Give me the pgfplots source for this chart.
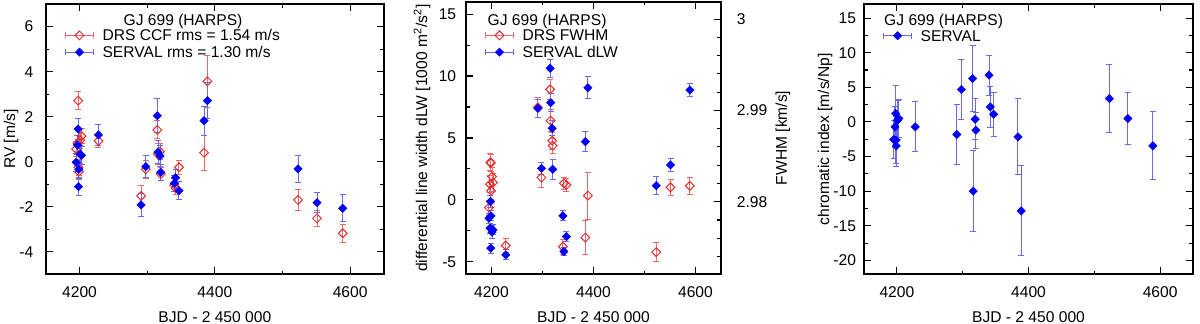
\documentclass[border=0pt]{standalone}
\usepackage{pgfplots}
\pgfplotsset{compat=1.18}
\usepackage{pgfplotstable}
\usepackage{fontspec}
\setmainfont{Liberation Sans}
\definecolor{dred}{RGB}{232,45,45}
\definecolor{dblue}{RGB}{0,0,250}
\definecolor{ered}{RGB}{235,105,105}
\definecolor{eblue}{RGB}{105,105,235}

\pgfplotstableread{
t b be r re
4195 -0.03 0.40 0.56 0.35
4197 0.74 0.42 0.82 0.35
4198 1.45 0.48 2.71 0.40
4199 -0.34 0.40 -0.44 0.35
4198.5 -1.11 0.40 -0.25 0.35
4201 0.33 0.40 0.95 0.35
4203 0.28 0.40 1.14 0.35
4228 1.19 0.45 0.92 0.30
4291 -1.92 0.52 -1.52 0.45
4298 -0.22 0.50 -0.34 0.40
4315 2.04 0.75 1.41 0.40
4316 0.42 0.50 0.34 0.45
4319 0.25 0.45 0.44 0.35
4320 -0.47 0.35 -0.55 0.30
4340 -0.96 0.35 -1.04 0.30
4342 -0.71 0.35 -1.18 0.30
4347 -1.29 0.40 -0.25 0.30
4384 1.82 0.65 0.40 0.77
4389 2.71 0.80 3.57 1.15
4523 -0.32 0.60 -1.70 0.45
4551 -1.82 0.45 -2.52 0.35
4589 -2.07 0.60 -3.18 0.40
}\rvtab

\pgfplotstableread{
t b be r re
4195 -1.48 0.4 -0.62 0.6
4197 -2.28 0.4 1.26 0.7
4198 -0.13 0.5 3.04 0.7
4199 -1.29 0.4 0.73 0.7
4198.5 -3.90 0.4 2.98 0.7
4201 -2.60 0.5 1.88 0.7
4203 -2.42 0.4 1.40 0.7
4228 -4.44 0.4 -3.68 0.6
4291 7.39 0.7 7.47 0.8
4298 2.55 0.5 1.80 0.8
4315 10.62 0.7 8.92 0.8
4316 7.85 0.7 6.39 0.9
4319 5.78 0.6 4.78 0.7
4320 2.47 0.8 4.38 0.6
4340 -1.29 0.4 -3.77 0.6
4342 -4.17 0.3 1.34 0.5
4347 -2.96 0.4 1.21 0.5
4384 4.70 0.8 -3.04 1.35
4389 9.06 0.9 0.35 1.90
4523 1.15 0.7 -4.22 0.75
4551 2.82 0.5 1.02 0.65
4589 8.87 0.55 1.13 0.7
}\lwtab

\pgfplotstableread{
t b be
4195 -2.55 2.7
4197 -0.72 3.0
4198 1.21 4.0
4199 -3.46 3.0
4198.5 -2.64 3.4
4201 0.25 2.8
4203 0.49 2.7
4228 -0.72 3.6
4291 -1.82 4.4
4298 4.68 4.3
4315 6.27 4.8
4316 -10.0 5.9
4319 0.39 3.0
4320 -1.20 2.6
4340 6.75 2.9
4342 2.17 3.0
4347 1.11 3.2
4384 -2.17 5.5
4389 -12.86 6.5
4523 3.37 4.9
4551 0.48 3.8
4589 -3.46 4.9
}\citab

\pgfplotsset{
  gp/.style={
    scale only axis, anchor=south west,
    font=\fontsize{7.8}{9}\selectfont,
    xmin=4150, xmax=4650,
    xtick={4200,4400,4600}, minor xtick={4300,4500},
    tick align=inside,
    major tick length=3.5pt, minor tick length=1.8pt,
    every tick/.style={black, line width=0.55pt},
    axis line style={black, line width=0.9pt},
    /pgf/number format/assume math mode=true,
    /pgf/number format/1000 sep={},
    xlabel={BJD - 2 450 000},
    xticklabel style={yshift=-2.9pt},
    clip=false,
  },
  ylab/.style={every axis y label/.style={at={(axis description cs:#1,0.5)}, rotate=90, anchor=center}},
  redpts/.style={only marks, mark=square, mark size=1.55pt,
     mark options={rotate=45, draw=dred, line width=0.5pt, fill=none},
     error bars/y dir=both, error bars/y explicit,
     error bars/error bar style={ered, line width=0.5pt},
     error bars/error mark options={rotate=90, ered, mark size=1.5pt, line width=0.5pt}},
  bluepts/.style={only marks, mark=square*, mark size=1.45pt,
     mark options={rotate=45, draw=dblue, fill=dblue, line width=0.3pt},
     error bars/y dir=both, error bars/y explicit,
     error bars/error bar style={eblue, line width=0.5pt},
     error bars/error mark options={rotate=90, eblue, mark size=1.5pt, line width=0.5pt}},
  gpleg/.style={legend cell align=left,
     legend style={draw=none, fill=none, inner sep=0pt, anchor=north west,
        row sep=2.7pt, column sep=4.5pt,
        nodes={inner sep=0pt, text height=5.6pt, text depth=0.1pt}}},
}
\newcommand{\redleg}{\addlegendimage{legend image code/.code={
   \draw[ered, line width=0.5pt] (0pt,0pt)--(13.6pt,0pt) (0pt,-1.5pt)--(0pt,1.5pt) (13.6pt,-1.5pt)--(13.6pt,1.5pt);
   \draw[only marks, mark=square, mark size=1.55pt, mark options={rotate=45, draw=dred, line width=0.5pt}] plot coordinates {(6.8pt,0pt)};}}}
\newcommand{\blueleg}{\addlegendimage{legend image code/.code={
   \draw[eblue, line width=0.5pt] (0pt,0pt)--(13.6pt,0pt) (0pt,-1.5pt)--(0pt,1.5pt) (13.6pt,-1.5pt)--(13.6pt,1.5pt);
   \draw[only marks, mark=square*, mark size=1.45pt, mark options={rotate=45, draw=dblue, fill=dblue, line width=0.3pt}] plot coordinates {(6.8pt,0pt)};}}}
\newcommand{\tfont}{\fontsize{7.8}{9}\selectfont}

\begin{document}
\begin{tikzpicture}
\path[use as bounding box] (0,0) rectangle (600pt,161.5pt);

% Panel 1
\begin{axis}[gp, gpleg, ylab=-0.1026, at={(22.85pt,24.4pt)}, width=169.15pt, height=135.05pt,
  ymin=-5, ymax=7, ytick={-4,-2,...,6}, minor y tick num=1,
  ylabel={RV [m/s]}, yticklabel style={xshift=-2.7pt},
  legend style={at={(0.057,0.907)}}]
\addplot[redpts, forget plot] table[x=t, y=r, y error=re] {\rvtab};
\addplot[bluepts, forget plot] table[x=t, y=b, y error=be] {\rvtab};
\redleg \addlegendentry{DRS CCF rms = 1.54 m/s}
\blueleg \addlegendentry{SERVAL rms = 1.30 m/s}
\node[anchor=base, font=\tfont] at (rel axis cs:0.406,0.919) {GJ 699 (HARPS)};
\end{axis}

% Panel 2
\begin{axis}[gp, gpleg, ylab=-0.1725, at={(233pt,24.4pt)}, width=127.5pt, height=136.25pt,
  ymin=-6, ymax=16, ytick={-5,0,...,15}, minor y tick num=1, ytick pos=left,
  ylabel={differential line width dLW [1000 m\textsuperscript{2}/s\textsuperscript{2}]},
  yticklabel style={xshift=-1.4pt},
  legend style={at={(0.0745,0.899)}}]
\addplot[redpts, forget plot] table[x=t, y=r, y error=re] {\lwtab};
\addplot[bluepts, forget plot] table[x=t, y=b, y error=be] {\lwtab};
\redleg \addlegendentry{DRS FWHM}
\blueleg \addlegendentry{SERVAL dLW}
\node[anchor=base, font=\tfont] at (rel axis cs:0.318,0.913) {GJ 699 (HARPS)};
\end{axis}
\begin{axis}[scale only axis, anchor=south west, at={(233pt,24.4pt)}, width=127.5pt, height=136.25pt,
  font=\tfont, xmin=4150, xmax=4650, axis x line=none, axis y line*=right,
  ymin=2.97207, ymax=3.0019, ytick={2.98,2.99,3},
  minor ytick={2.974,2.976,2.978,2.982,2.984,2.986,2.988,2.992,2.994,2.996,2.998},
  tick align=inside, major tick length=3.5pt, minor tick length=1.8pt,
  every tick/.style={black, line width=0.55pt},
  axis line style={black, line width=0.9pt},
  /pgf/number format/assume math mode=true,
  /pgf/number format/fixed, /pgf/number format/precision=2,
  yticklabel style={xshift=4.4pt},
  ylab=1.243,
  ylabel={FWHM [km/s]}]
\end{axis}

% Panel 3
\begin{axis}[gp, gpleg, ylab=-0.1185, at={(432pt,24.4pt)}, width=164.5pt, height=135pt,
  ymin=-22, ymax=17, ytick={-20,-15,...,15}, minor y tick num=1,
  ylabel={chromatic index [m/s/Np]}, yticklabel style={xshift=-0.5pt},
  legend style={at={(0.058,0.906)}}]
\addplot[bluepts, forget plot] table[x=t, y=b, y error=be] {\citab};
\blueleg \addlegendentry{SERVAL}
\node[anchor=base, font=\tfont] at (rel axis cs:0.242,0.922) {GJ 699 (HARPS)};
\end{axis}
\end{tikzpicture}
\end{document}
